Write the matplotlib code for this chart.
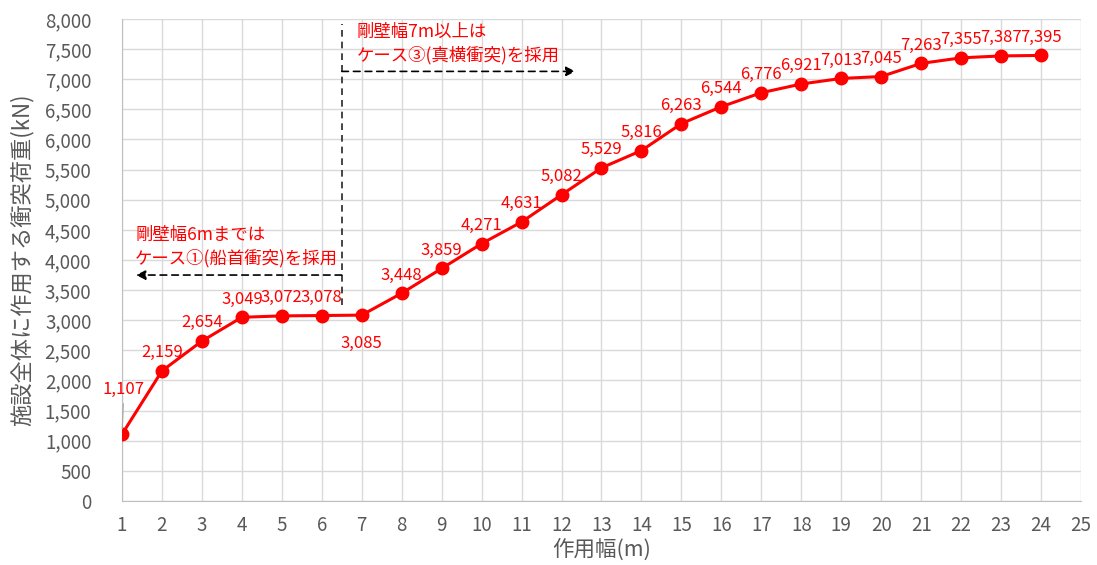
import matplotlib
matplotlib.use("Agg")
import matplotlib.pyplot as plt

plt.rcParams['font.family'] = ['Noto Sans CJK JP', 'DejaVu Sans']

widths = list(range(1, 25))
loads = [1107, 2159, 2654, 3049, 3072, 3078, 3085, 3448, 3859, 4271, 4631, 5082,
         5529, 5816, 6263, 6544, 6776, 6921, 7013, 7045, 7263, 7355, 7387, 7395]

note_left = "剛壁幅6mまでは\nケース①(船首衝突)を採用"
note_right = "剛壁幅7m以上は\nケース③(真横衝突)を採用"

red = "#ff0000"
gray_txt = "#595959"

fig = plt.figure(figsize=(10.97, 5.65), dpi=100)
ax = fig.add_axes([0.1112, 0.1133, 0.8742, 0.8531])

ax.plot(widths, loads, color=red, linewidth=2.2, marker='o', markersize=9, zorder=3)

for x, y in zip(widths, loads):
    label = f"{y:,}"
    if x == 1:
        ax.annotate(label, xy=(x, y), xytext=(x + 0.05, y + 600), ha='center', va='bottom',
                    color=red, fontsize=12,
                    arrowprops=dict(arrowstyle='-', color='#a6a6a6', lw=0.8, shrinkA=2, shrinkB=4))
    elif x == 7:
        ax.annotate(label, xy=(x, y), xytext=(0, -14), textcoords='offset points',
                    ha='center', va='top', color=red, fontsize=12)
    else:
        ax.annotate(label, xy=(x, y), xytext=(0, 7), textcoords='offset points',
                    ha='center', va='bottom', color=red, fontsize=12)

# boundary between case 1 and case 3
ax.plot([6.5, 6.5], [3250, 7920], color='#262626', linestyle='--', linewidth=1.2, dashes=(4, 3))
ax.annotate("", xy=(1.35, 3750), xytext=(6.5, 3750),
            arrowprops=dict(arrowstyle='-|>', color='black', lw=1.2, linestyle=(0, (4, 3)),
                            mutation_scale=14, shrinkA=0, shrinkB=0))
ax.annotate("", xy=(12.35, 7130), xytext=(6.5, 7130),
            arrowprops=dict(arrowstyle='-|>', color='black', lw=1.2, linestyle=(0, (4, 3)),
                            mutation_scale=14, shrinkA=0, shrinkB=0))
ax.text(1.33, 3880, note_left, color=red, fontsize=12.5, ha='left', va='bottom', linespacing=1.3)
ax.text(6.88, 7250, note_right, color=red, fontsize=12.5, ha='left', va='bottom', linespacing=1.3)

ax.set_xlim(1, 25)
ax.set_ylim(0, 8000)
ax.set_xticks(range(1, 26))
ax.set_yticks(range(0, 8001, 500))
ax.yaxis.set_major_formatter(matplotlib.ticker.FuncFormatter(lambda v, p: f"{int(v):,}"))
ax.tick_params(length=0, labelsize=13.5, colors=gray_txt)
ax.tick_params(axis='x', pad=10)
ax.tick_params(axis='y', pad=22)
ax.grid(True, color='#d9d9d9', linewidth=1.0)
ax.set_axisbelow(True)
for side in ['top', 'right']:
    ax.spines[side].set_visible(False)
for side in ['left', 'bottom']:
    ax.spines[side].set_color('#bfbfbf')

ax.set_xlabel("作用幅(m)", fontsize=15.5, color=gray_txt, labelpad=2)
ax.set_ylabel("施設全体に作用する衝突荷重(kN)", fontsize=16, color=gray_txt, labelpad=8)

fig.savefig("out.png", dpi=100)
